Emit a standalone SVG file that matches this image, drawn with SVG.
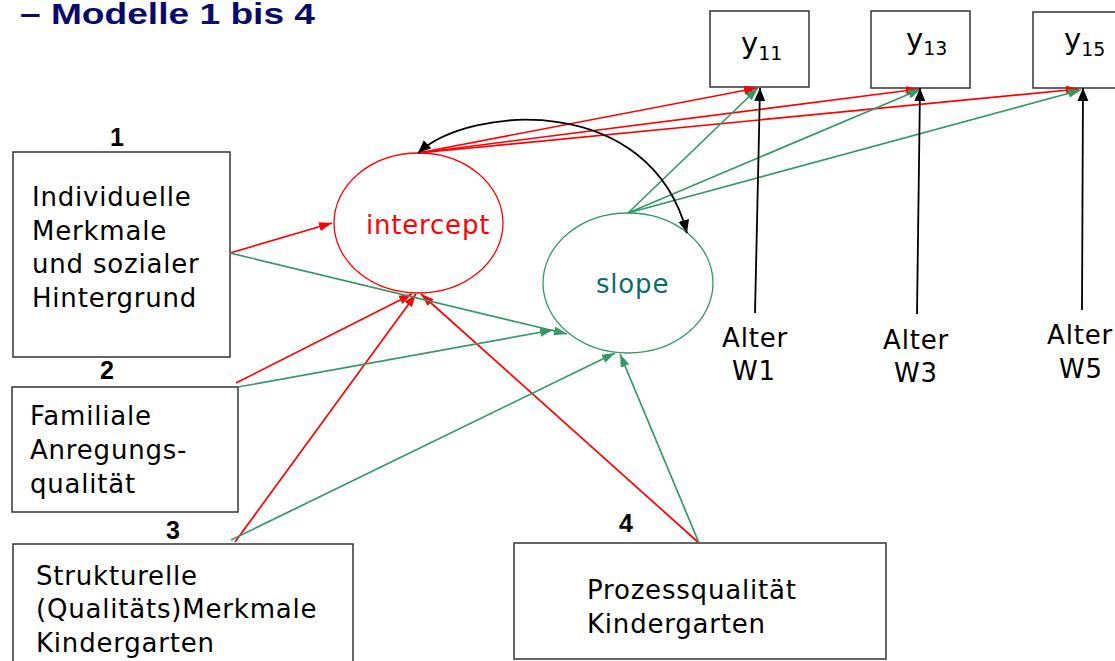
<svg xmlns="http://www.w3.org/2000/svg" width="1115" height="661" viewBox="0 0 1115 661">
<style>
.box{fill:#fff;stroke:#404040;stroke-width:1.6}
.t{font-family:"DejaVu Sans",Verdana,sans-serif;font-size:26px;letter-spacing:0.8px;fill:#000}
.num{font-family:"Liberation Sans",Arial,sans-serif;font-size:25px;font-weight:bold;fill:#000;text-anchor:middle}
.yl{font-family:"DejaVu Sans",Verdana,sans-serif;font-size:29px;fill:#000}
.r{stroke:#ff0000;stroke-width:1.7;fill:none;marker-end:url(#ar)}
.g{stroke:#339966;stroke-width:1.7;fill:none;marker-end:url(#ag)}
.k{stroke:#000;stroke-width:1.8;fill:none;marker-end:url(#ak)}
</style>
<defs>
<marker id="ar" markerUnits="userSpaceOnUse" markerWidth="14" markerHeight="10" refX="13" refY="5" orient="auto"><path d="M0,0.5 L13,5 L0,9.5 z" fill="#ff0000"/></marker>
<marker id="ag" markerUnits="userSpaceOnUse" markerWidth="14" markerHeight="10" refX="13" refY="5" orient="auto"><path d="M0,0.5 L13,5 L0,9.5 z" fill="#339966"/></marker>
<marker id="ak" markerUnits="userSpaceOnUse" markerWidth="14" markerHeight="12" refX="13" refY="6" orient="auto-start-reverse"><path d="M0,0.5 L13,6 L0,11.5 z" fill="#000"/></marker>
</defs>
<rect width="1115" height="661" fill="#fff"/>
<text x="20" y="24" font-family="Liberation Sans,Arial,sans-serif" font-weight="bold" font-size="29" fill="#0a0a6b" textLength="295" lengthAdjust="spacingAndGlyphs">– Modelle 1 bis 4</text>

<g id="box1">
<rect class="box" x="13" y="152" width="217" height="205"/>
<text class="num" x="117" y="146">1</text>
<text class="t" x="32" y="206">Individuelle</text>
<text class="t" x="32" y="240">Merkmale</text>
<text class="t" x="32" y="273">und sozialer</text>
<text class="t" x="32" y="307">Hintergrund</text>
</g>
<g id="box2">
<rect class="box" x="12" y="387" width="226" height="125"/>
<text class="num" x="107" y="379">2</text>
<text class="t" x="30" y="425">Familiale</text>
<text class="t" x="30" y="459">Anregungs-</text>
<text class="t" x="30" y="493">qualität</text>
</g>
<g id="box3">
<rect class="box" x="13" y="544" width="340" height="130"/>
<text class="num" x="173" y="539">3</text>
<text class="t" x="36" y="585">Strukturelle</text>
<text class="t" x="36" y="618">(Qualitäts)Merkmale</text>
<text class="t" x="36" y="652">Kindergarten</text>
</g>
<g id="box4">
<rect class="box" x="514" y="543" width="372" height="116"/>
<text class="num" x="626" y="532">4</text>
<text class="t" x="587" y="599">Prozessqualität</text>
<text class="t" x="587" y="633">Kindergarten</text>
</g>
<g id="intercept">
<ellipse cx="418.5" cy="223" rx="84.5" ry="70" fill="none" stroke="#ff0000" stroke-width="1.3"/>
<text class="t" x="366" y="234" style="fill:#ff0000">intercept</text>
</g>
<g id="slope">
<ellipse cx="628" cy="283" rx="85" ry="70" fill="none" stroke="#339966" stroke-width="1.3"/>
<text class="t" x="596" y="293" style="fill:#0e6b6b">slope</text>
</g>
<g id="y11">
<rect class="box" x="710" y="11" width="99" height="76"/>
<text class="yl" x="741" y="53">y<tspan font-size="19" dy="7">11</tspan></text>
</g>
<g id="y13">
<rect class="box" x="871" y="11" width="99" height="77"/>
<text class="yl" x="906" y="49">y<tspan font-size="19" dy="6">13</tspan></text>
</g>
<g id="y15">
<rect class="box" x="1033" y="12" width="100" height="76"/>
<text class="yl" x="1064" y="49">y<tspan font-size="19" dy="7">15</tspan></text>
</g>
<g id="alterW1">
<text class="t" x="755" y="347" text-anchor="middle" letter-spacing="0.4">Alter</text>
<text class="t" x="754" y="380" text-anchor="middle" letter-spacing="0.4">W1</text>
</g>
<g id="alterW3">
<text class="t" x="916" y="349" text-anchor="middle" letter-spacing="0.4">Alter</text>
<text class="t" x="916" y="382" text-anchor="middle" letter-spacing="0.4">W3</text>
</g>
<g id="alterW5">
<text class="t" x="1080" y="344" text-anchor="middle" letter-spacing="0.4">Alter</text>
<text class="t" x="1081" y="378" text-anchor="middle" letter-spacing="0.4">W5</text>
</g>

<g id="connectors">
<path class="r" d="M230,253 L332,223"/>
<path class="r" d="M236,383 L412,294"/>
<path class="r" d="M235,542 L416,294"/>
<path class="r" d="M699,543 L421,294"/>
<path class="r" d="M418,153 L757,88"/>
<path class="r" d="M418,153 L919,89"/>
<path class="r" d="M418,153 L1079,89"/>
<path class="g" d="M230,253 L567,334"/>
<path class="g" d="M238,387 L553,330"/>
<path class="g" d="M231,540 L615,353"/>
<path class="g" d="M699,543 L620,354"/>
<path class="g" d="M628,213 L758,88"/>
<path class="g" d="M628,213 L921,89"/>
<path class="g" d="M628,213 L1081,90"/>
<path class="k" d="M755,313 L760,88"/>
<path class="k" d="M917,314 L920,88"/>
<path class="k" d="M1082,310 L1083,88"/>
<path class="k" d="M418,153 C470,105 650,92 687,233" marker-start="url(#ak)"/>
</g>
</svg>
